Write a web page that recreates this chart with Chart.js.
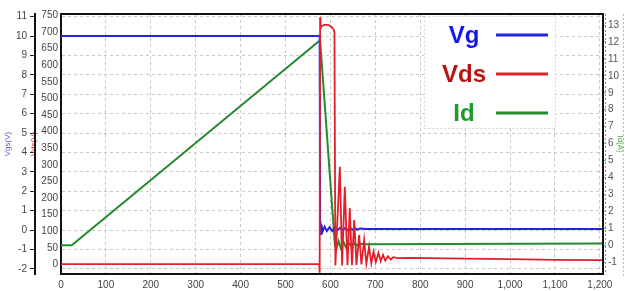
<!DOCTYPE html>
<html>
<head>
<meta charset="utf-8">
<script src="https://cdn.jsdelivr.net/npm/chart.js@4.4.1/dist/chart.umd.min.js"></script>
<style>
  html, body { margin: 0; padding: 0; background: #fff; }
  #wrap { width: 625px; height: 291px; }
</style>
</head>
<body>
<div id="wrap"><canvas id="chart" width="625" height="291"></canvas></div>
<script>
// gate voltage (V)
const vgTime  = [0, 576, 577, 578, 580, 582, 587, 592, 598, 604, 610, 616, 622, 627, 633, 638, 644, 649, 655, 660, 666, 680, 1205];
const vgValue = [10, 10, 0.45, -0.25, 0.3, -0.1, 0.18, -0.05, 0.15, -0.05, 0.14, 0, 0.13, 0, 0.12, 0, 0.11, 0.02, 0.1, 0.03, 0.08, 0.06, 0.06];

// drain-source voltage (V)
const vdsTime  = [0, 575, 576, 577, 578, 581, 586, 595, 602, 607, 609, 611, 621, 626, 632, 638, 643, 648, 653, 658,
                  664, 669, 675, 680, 686, 691, 696, 701, 707, 712, 717, 722, 728, 734, 740, 750, 780, 900, 1000, 1100, 1205];
const vdsValue = [1, 1, -25, 745, 712, 718, 722, 722, 716, 708, 700, -3, 294, -3, 234, -2, 170, -2, 134, -1,
                  89, 0, 74, 2, 54, 4, 39, 7, 35, 10, 29, 12, 25, 15, 22, 19, 20, 18, 16, 14, 13];

// drain current (A)
const idTime  = [0, 24, 577, 610, 613, 618, 623, 629, 634, 640, 646, 652, 658, 664, 680, 1205];
const idValue = [0, 0, 12.1, 0, -0.25, 0.25, -0.15, 0.2, -0.1, 0.15, -0.05, 0.12, 0, 0.08, 0.05, 0.1];

const xTicks = [0, 100, 200, 300, 400, 500, 600, 700, 800, 900, 1000, 1100, 1200];

const toPoints = (t, v) => t.map((x, i) => ({ x: x, y: v[i] }));

const tickFont = { family: "'Liberation Sans', Arial, sans-serif", size: 10 };
const width = (w) => (scale) => { scale.width = w; };

// plot frame, legend box, Id axis line
const framePlugin = {
  id: "frame",
  beforeDatasetsDraw(chart) {
    const { ctx, chartArea: a } = chart;
    ctx.save();
    ctx.fillStyle = "#fff";
    ctx.fillRect(424, 16, 132, 113);
    ctx.setLineDash([2, 2]);
    ctx.strokeStyle = "#d4d4d4";
    ctx.lineWidth = 1;
    ctx.strokeRect(424.5, 16.5, 131, 112);

    ctx.strokeStyle = "#3bb8b8";
    ctx.beginPath();
    ctx.moveTo(a.right + 2.5, a.top);
    ctx.lineTo(a.right + 2.5, a.bottom);
    ctx.stroke();

    ctx.strokeStyle = "#bbb";
    ctx.beginPath();
    ctx.moveTo(623.5, a.top);
    ctx.lineTo(623.5, a.bottom + 4);
    ctx.stroke();

    ctx.setLineDash([]);
    ctx.strokeStyle = "#111";
    ctx.lineWidth = 2;
    ctx.strokeRect(a.left, a.top, a.right - a.left, a.bottom - a.top);
    ctx.restore();
  },
  afterDraw(chart) {
    const ctx = chart.ctx;
    ctx.save();
    ctx.font = "bold 24px 'Liberation Sans', Arial, sans-serif";
    ctx.textAlign = "center";
    chart.data.datasets.forEach((ds, i) => {
      const y = 35 + i * 39;
      ctx.fillStyle = ds.textColor;
      ctx.fillText(ds.label, 464, y + 8);
      ctx.strokeStyle = ds.borderColor;
      ctx.lineWidth = 3;
      ctx.beginPath();
      ctx.moveTo(496, y);
      ctx.lineTo(548, y);
      ctx.stroke();
    });
    ctx.restore();
  },
};

new Chart(document.getElementById("chart"), {
  type: "line",
  data: {
    datasets: [
      {
        label: "Vg",
        data: toPoints(vgTime, vgValue),
        yAxisID: "yVgs",
        borderColor: "#2424dc",
        textColor: "#1515ee",
        borderWidth: 2,
        pointRadius: 0,
        order: 1,
      },
      {
        label: "Vds",
        data: toPoints(vdsTime, vdsValue),
        yAxisID: "yVds",
        borderColor: "#e2202a",
        textColor: "#bd1010",
        borderWidth: 1.8,
        pointRadius: 0,
        order: 0,
      },
      {
        label: "Id",
        data: toPoints(idTime, idValue),
        yAxisID: "yId",
        borderColor: "#238a2e",
        textColor: "#1e9a28",
        borderWidth: 2,
        pointRadius: 0,
        order: 2,
      },
    ],
  },
  options: {
    responsive: false,
    animation: false,
    devicePixelRatio: 1,
    layout: { padding: { top: 14, left: 0, right: 0, bottom: 0 } },
    plugins: { legend: { display: false }, tooltip: { enabled: false } },
    scales: {
      x: {
        type: "linear",
        min: 0,
        max: 1207,
        afterBuildTicks: (scale) => { scale.ticks = xTicks.map((v) => ({ value: v })); },
        afterFit: (scale) => { scale.height = 17; },
        ticks: { font: tickFont, color: "#444", padding: 5, maxRotation: 0 },
        grid: { color: "#c8c8c8", drawTicks: false },
        border: { display: false, dash: [3, 3] },
      },
      yVgs: {
        position: "left",
        weight: 1,
        min: -2.26,
        max: 11.14,
        afterFit: width(35),
        ticks: { stepSize: 1, includeBounds: false, font: tickFont, color: "#444", padding: 3 },
        grid: { color: "#c8c8c8", tickLength: 5, tickColor: "#222", tickBorderDash: [] },
        border: { display: true, color: "#111", width: 2, dash: [3, 3] },
        title: { display: true, text: "Vgs(V)", color: "#5a5ad2", font: { size: 8 }, padding: { top: 3, bottom: 0 } },
      },
      yVds: {
        position: "left",
        weight: 0,
        min: -28.6,
        max: 754.5,
        afterFit: width(26),
        ticks: { stepSize: 50, includeBounds: false, font: tickFont, color: "#444", padding: 3 },
        grid: { display: false, drawTicks: false },
        border: { display: false },
        title: { display: true, text: "Vds(V)", color: "#cc3030", font: { size: 8 }, padding: { top: -6, bottom: 0 } },
      },
      yId: {
        position: "right",
        min: -1.7,
        max: 13.65,
        afterFit: width(22),
        ticks: { stepSize: 1, includeBounds: false, font: tickFont, color: "#555", padding: 2 },
        grid: { drawOnChartArea: false, tickLength: 3, tickColor: "#3bb8b8" },
        border: { display: false },
        title: { display: true, text: "Id(A)", color: "#44a844", font: { size: 8 }, padding: 0 },
      },
    },
  },
  plugins: [framePlugin],
});
</script>
</body>
</html>
